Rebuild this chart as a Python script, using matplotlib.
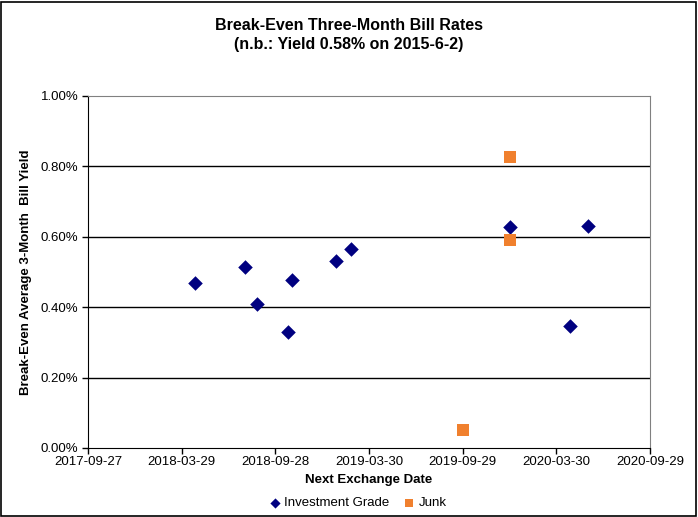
import numpy as np
import pandas as pd
import matplotlib
matplotlib.use('Agg')
from matplotlib import pyplot as plt
import matplotlib.dates as mdates
from matplotlib.ticker import FuncFormatter, MultipleLocator

plt.rcParams['font.family'] = ['Liberation Sans', 'DejaVu Sans']

# data
ig_dates = ['2018-04-24', '2018-07-31', '2018-08-23', '2018-10-23', '2018-10-31',
            '2019-01-25', '2019-02-23', '2019-12-31', '2020-04-25', '2020-05-31']
ig_yield = [0.469, 0.514, 0.409, 0.330, 0.477, 0.532, 0.565, 0.629, 0.347, 0.632]

junk_dates = ['2019-09-29', '2019-12-31', '2019-12-31']
junk_yield = [0.051, 0.827, 0.591]

x_ticks = ['2017-09-27', '2018-03-29', '2018-09-28', '2019-03-30',
           '2019-09-29', '2020-03-30', '2020-09-29']

ig_x = pd.to_datetime(ig_dates)
junk_x = pd.to_datetime(junk_dates)
tick_x = pd.to_datetime(x_ticks)

fig = plt.figure(figsize=(6.98, 5.17), dpi=100)
ax = fig.add_axes([88/698, 69/517, 562/698, 352/517])

# outer chart border
fig.patches.append(plt.Rectangle((0.002, 0.002), 0.995, 0.995, transform=fig.transFigure,
                                 fill=False, edgecolor='black', linewidth=1.2))

for y in [0.2, 0.4, 0.6, 0.8]:
    ax.axhline(y, color='black', linewidth=1.0, zorder=1)

ax.scatter(ig_x, ig_yield, marker='D', s=55, color='#000080', zorder=3,
           label='Investment Grade', linewidths=0)
ax.scatter(junk_x, junk_yield, marker='s', s=75, color='#F0802E', zorder=3,
           label='Junk', linewidths=0)

ax.set_xlim(tick_x[0], tick_x[-1])
ax.set_ylim(0, 1.0)
ax.set_xticks(tick_x)
ax.set_xticklabels(x_ticks)
ax.yaxis.set_major_locator(MultipleLocator(0.2))
ax.yaxis.set_major_formatter(FuncFormatter(lambda v, p: '%.2f%%' % v))

ax.tick_params(axis='both', labelsize=9.5, length=4, direction='out', color='black', width=1)
ax.tick_params(axis='x', pad=2)
ax.tick_params(axis='y', pad=3)

ax.spines['left'].set_color('black')
ax.spines['bottom'].set_color('black')
ax.spines['top'].set_color('#808080')
ax.spines['right'].set_color('#808080')

ax.set_xlabel('Next Exchange Date', fontsize=9.5, fontweight='bold', labelpad=4)
ax.set_ylabel('Break-Even Average 3-Month  Bill Yield', fontsize=9.5, fontweight='bold', labelpad=6)

fig.text(349/698, 1 - 35/517, 'Break-Even Three-Month Bill Rates\n(n.b.: Yield 0.58% on 2015-6-2)',
         ha='center', va='center', fontsize=11.5, fontweight='bold', linespacing=1.25)

fig.legend(loc='center', bbox_to_anchor=(354/698, 1 - 503/517), ncol=2, frameon=False,
           fontsize=9.5, handletextpad=-0.3, columnspacing=0.5, markerscale=0.7)

fig.savefig('out.png', dpi=100)
